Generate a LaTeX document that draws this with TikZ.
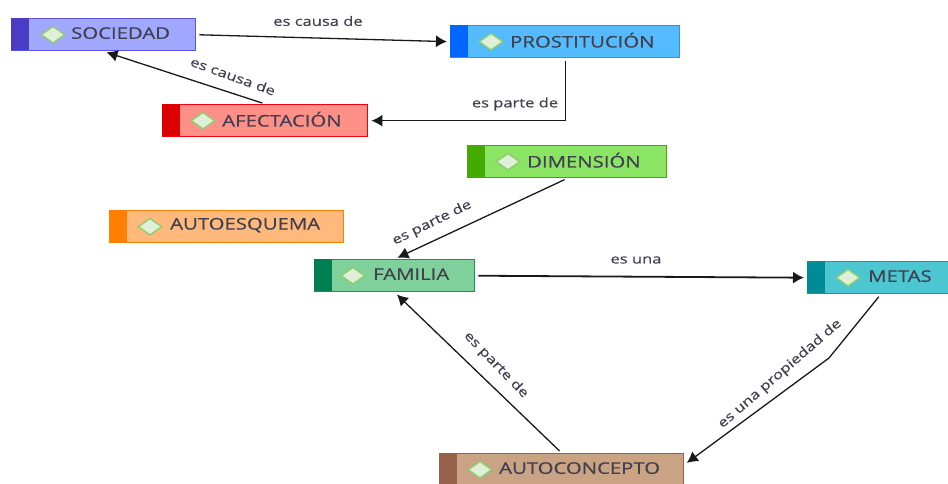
\documentclass[tikz,border=0pt]{standalone}
\usepackage{fontspec}
\setmainfont[FakeStretch=1.27,FakeBold=0.5]{Open Sans}
\usepackage{tikz}
\usetikzlibrary{shapes.geometric, arrows.meta}
\definecolor{socf}{HTML}{A0A8FF}
\definecolor{socd}{HTML}{5A55E0}
\definecolor{socb}{HTML}{4B3CC8}
\definecolor{prof}{HTML}{55BBFF}
\definecolor{prod}{HTML}{2A90FF}
\definecolor{prob}{HTML}{0066FF}
\definecolor{afef}{HTML}{FF9088}
\definecolor{afed}{HTML}{F00010}
\definecolor{afeb}{HTML}{DD0000}
\definecolor{dimf}{HTML}{8CE464}
\definecolor{dimd}{HTML}{44AA00}
\definecolor{auef}{HTML}{FFB97C}
\definecolor{aued}{HTML}{FF8000}
\definecolor{famf}{HTML}{80D09C}
\definecolor{famd}{HTML}{1F8F5A}
\definecolor{famb}{HTML}{008050}
\definecolor{metf}{HTML}{4CC6D0}
\definecolor{metd}{HTML}{1A9AA5}
\definecolor{metb}{HTML}{008C96}
\definecolor{aucf}{HTML}{C9A384}
\definecolor{aucd}{HTML}{96604A}
\definecolor{gemd}{HTML}{90CC70}
\definecolor{gemf}{HTML}{E0F0D8}
\definecolor{ink}{HTML}{404050}

\begin{document}
\begin{tikzpicture}[x=1pt, y=-1pt,
    main/.style={draw, rectangle, anchor=north west, minimum height=32pt, inner sep=0pt, line width=1.4pt},
    band/.style={rectangle, anchor=north west, minimum width=18pt, minimum height=32pt, inner sep=0pt},
    gem/.style={draw=gemd, fill=gemf, line width=1.4pt, shape=diamond, minimum width=24pt, minimum height=17pt, inner sep=0pt},
    title/.style={anchor=west, inner sep=0pt, yshift=1.6pt, text=ink, font=\fontsize{16}{18}\selectfont},
    info/.style={inner sep=0pt, text=ink, font=\fontsize{13}{15}\selectfont},
    n/.style={-{Latex[length=11pt, width=12pt]}, line width=1.3pt, black!90, shorten >=3pt, shorten <=3pt}]
    \useasboundingbox (0,0) rectangle (948,483);
    % nodes
    \node[main, fill=socf, draw=socd, minimum width=184pt] (soc) at (11,18) {};
    \node[band, fill=socb] (socbar) at (soc.north west) {};
    \node[gem] (socgem) at ([xshift=42pt]soc.west) {};
    \node[title] (soctxt) at ([xshift=60pt]soc.west) {SOCIEDAD};
    \node[main, fill=prof, draw=prod, minimum width=229pt] (pro) at (450,25) {};
    \node[band, fill=prob] (probar) at (pro.north west) {};
    \node[gem] (progem) at ([xshift=41pt]pro.west) {};
    \node[title] (protxt) at ([xshift=60pt]pro.west) {PROSTITUCIÓN};
    \node[main, fill=afef, draw=afed, minimum width=205pt] (afe) at (162,104) {};
    \node[band, fill=afeb] (afebar) at (afe.north west) {};
    \node[gem] (afegem) at ([xshift=41pt]afe.west) {};
    \node[title] (afetxt) at ([xshift=60pt]afe.west) {AFECTACIÓN};
    \node[main, fill=dimf, draw=dimd, minimum width=199pt] (dim) at (467,145) {};
    \node[band, fill=dimd] (dimbar) at (dim.north west) {};
    \node[gem] (dimgem) at ([xshift=41pt]dim.west) {};
    \node[title] (dimtxt) at ([xshift=60pt]dim.west) {DIMENSIÓN};
    \node[main, fill=auef, draw=aued, minimum width=234pt] (aue) at (109,210) {};
    \node[band, fill=aued] (auebar) at (aue.north west) {};
    \node[gem] (auegem) at ([xshift=41pt]aue.west) {};
    \node[title] (auetxt) at ([xshift=61pt]aue.west) {AUTOESQUEMA};
    \node[main, fill=famf, draw=famd, minimum width=160pt] (fam) at (314,259) {};
    \node[band, fill=famb] (fambar) at (fam.north west) {};
    \node[gem] (famgem) at ([xshift=39pt]fam.west) {};
    \node[title] (famtxt) at ([xshift=59pt]fam.west) {FAMILIA};
    \node[main, fill=metf, draw=metd, minimum width=146pt] (met) at (807,261) {};
    \node[band, fill=metb] (metbar) at (met.north west) {};
    \node[gem] (metgem) at ([xshift=41pt]met.west) {};
    \node[title] (mettxt) at ([xshift=61pt]met.west) {METAS};
    \node[main, fill=aucf, draw=aucd, minimum width=244pt] (auc) at (439,453) {};
    \node[band, fill=aucd] (aucbar) at (auc.north west) {};
    \node[gem] (aucgem) at ([xshift=41pt]auc.west) {};
    \node[title] (auctxt) at ([xshift=60pt]auc.west) {AUTOCONCEPTO};
    \coordinate (bend) at (829,358);
    % edges
    \draw [n] (soc.east) -- (pro.west);
    \draw [n] (afe.north) -- (soc.south);
    \draw [n] (pro.south) |- (afe.east);
    \draw [n] (dim.south) -- (fam.north);
    \draw [n, line width=1.8pt] (fam.east) -- (met.west);
    \draw [n] (met.south) -- (bend) -- ([yshift=5pt]auc.east);
    \draw [n] (auc.north) -- (fam.south);
    % labels
    \node[info] (l1) at (318,21) {es causa de};
    \node[info, rotate=-20] (l2) at (233,76) {es causa de};
    \node[info] (l3) at (515,104) {es parte de};
    \node[info, rotate=26] (l4) at (432,223) {es parte de};
    \node[info] (l5) at (636,260) {es una};
    \node[info, rotate=-46] (l6) at (496,365) {es parte de};
    \node[info, rotate=41] (l7) at (780,374) {es una propiedad de};
\end{tikzpicture}
\end{document}
